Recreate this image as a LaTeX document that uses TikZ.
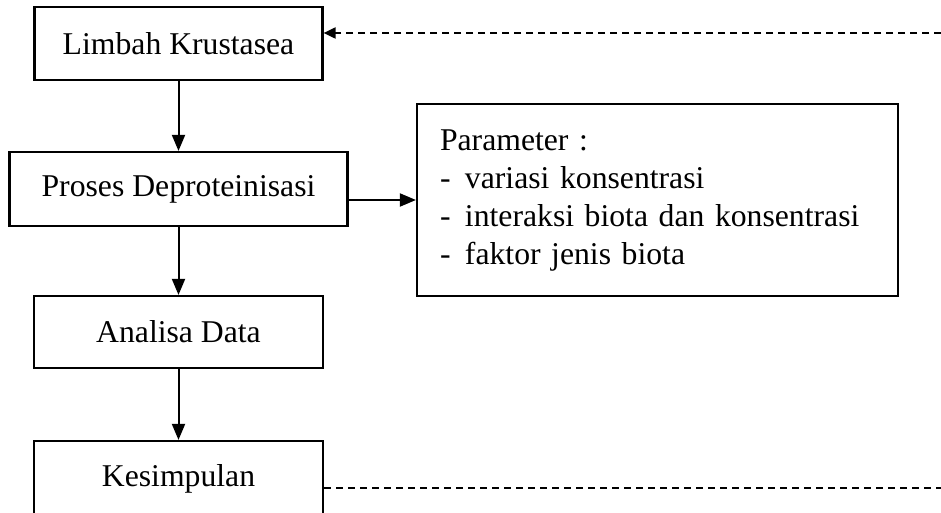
\documentclass[tikz,border=0pt]{standalone}
\usepackage{fontspec}
\setmainfont{Liberation Serif}
\usetikzlibrary{arrows.meta}

\tikzset{
  kotak/.style={draw, line width=2.2pt, inner sep=0pt, font=\fontsize{31.7}{38}\selectfont},
  panah/.style={line width=2pt, -{Triangle[length=16pt,width=13pt]}},
  putus/.style={line width=2pt, dash pattern=on 7pt off 5pt}
}

\begin{document}
\begin{tikzpicture}[x=1pt,y=-1pt]
 			\clip (0,0) rectangle (941,513);
 			\node[kotak, minimum width=288pt, minimum height=73pt] (limbah) at (178.5,43.5) {Limbah Krustasea};
 			\node[kotak, minimum width=338pt, minimum height=74pt] (proses) at (178.5,189) {Proses Deproteinisasi};
 			\node[kotak, minimum width=289pt, minimum height=72pt] (analisa) at (178.5,332) {Analisa Data};
 			\node[kotak, minimum width=289pt, minimum height=76pt] (kesimpulan) at (178.5,479) {Kesimpulan};
 			\node[kotak, minimum width=481pt, minimum height=192pt, text width=435pt, align=left] (parameter) at (657.5,200)
 			  {Parameter :\\
 			   \makebox[25pt][l]{-}variasi konsentrasi\\
 			   \makebox[25pt][l]{-}interaksi biota dan konsentrasi\\
 			   \makebox[25pt][l]{-}faktor jenis biota};
 			
 			\coordinate (balik) at (941,33);
 			\coordinate (keluar) at (941,488);
 			
 			\draw [panah] (limbah)--(proses);
 			\draw [panah] (proses)--(analisa);
 			\draw [panah] (analisa)--(kesimpulan);
 			\draw [panah] (parameter.west -| proses.east)--(parameter.west);
 			
 			\draw [putus, -{Triangle[length=12pt,width=11pt]}] (balik)--(balik -| limbah.east);
 			\draw [putus] (kesimpulan.east |- keluar)--(keluar);
 		\end{tikzpicture}
\end{document}
